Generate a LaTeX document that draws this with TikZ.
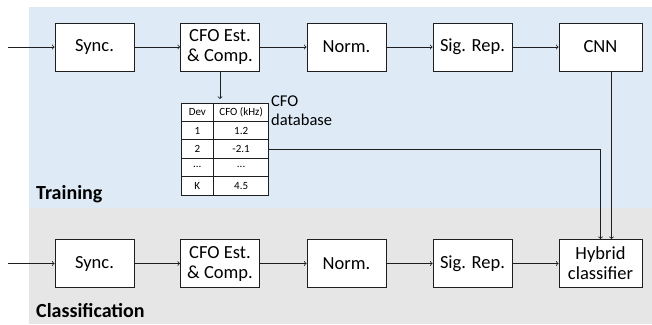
\documentclass[tikz,border=0pt]{standalone}
\usepackage{fontspec}
\setmainfont{Carlito}
\usetikzlibrary{matrix}
\definecolor{trainbg}{RGB}{222,235,247}
\definecolor{classbg}{RGB}{231,230,230}
\definecolor{linec}{RGB}{30,30,30}
\begin{document}
\begin{tikzpicture}[x=1pt,y=-1pt,
  blk/.style={draw=linec, line width=0.9pt, fill=white, minimum width=79pt, minimum height=48pt,
    inner sep=0pt, align=center, font=\fontsize{18.5}{20}\selectfont},
  wideblk/.style={blk, minimum width=83pt},
  conn/.style={draw=linec, line width=0.8pt, ->},
  lbl/.style={font=\fontsize{20}{22}\selectfont\bfseries, inner sep=0pt, anchor=base west}
]
\useasboundingbox (0,0) rectangle (652,324);
\fill[trainbg] (29,7) rectangle (652,208);
\fill[classbg] (29,208) rectangle (652,324);

% training row
\node[blk] (s1) at (94.5,47) {Sync.};
\node[blk] (c1) at (220,47) {CFO Est.\\\& Comp.};
\node[blk] (n1) at (346.5,47) {Norm.};
\node[blk] (r1) at (472.5,47) {Sig. Rep.};
\node[wideblk] (cnn) at (600.5,47) {CNN};
\coordinate (in1) at (8,47);

% classification row
\node[blk] (s2) at (94.5,263.5) {Sync.};
\node[blk] (c2) at (220,263.5) {CFO Est.\\\& Comp.};
\node[blk] (n2) at (346.5,263.5) {Norm.};
\node[blk] (r2) at (472.5,263.5) {Sig. Rep.};
\node[wideblk] (hyb) at (600.5,263.5) {Hybrid\\classifier};
\coordinate (in2) at (8,263.5);

% table
\matrix (tbl) [matrix of nodes, anchor=north west, column sep=-0.8pt, row sep=-0.8pt,
  nodes={draw=linec, line width=0.8pt, fill=white, minimum height=18.4pt, inner sep=0pt,
    font=\fontsize{11}{12}\selectfont, anchor=center},
  column 1/.style={nodes={minimum width=32.8pt}},
  column 2/.style={nodes={minimum width=54.8pt}}] at (177,99) {
  Dev & CFO (kHz)\\
  1 & 1.2\\
  2 & -2.1\\
  ... & ...\\
  K & 4.5\\
};
\node[anchor=north west, inner sep=0pt, align=left, font=\fontsize{16.5}{19}\selectfont] (dbl) at (271,96) {CFO\\database};

% labels
\node[lbl] (tr) at (36,199) {Training};
\node[lbl] (cl) at (36,317) {Classification};

% connectors
\draw[conn] (in1) -- (s1);
\draw[conn] (s1) -- (c1);
\draw[conn] (c1) -- (n1);
\draw[conn] (n1) -- (r1);
\draw[conn] (r1) -- (cnn);
\draw[conn] (in2) -- (s2);
\draw[conn] (s2) -- (c2);
\draw[conn] (c2) -- (n2);
\draw[conn] (n2) -- (r2);
\draw[conn] (r2) -- (hyb);
\draw[conn] (c1.south) -- (c1.south |- tbl.north);
\draw[conn] (tbl-3-2.east) -| (hyb.north);
\draw[conn] ([xshift=11pt]cnn.south) -- ([xshift=11pt]hyb.north);
\end{tikzpicture}
\end{document}
